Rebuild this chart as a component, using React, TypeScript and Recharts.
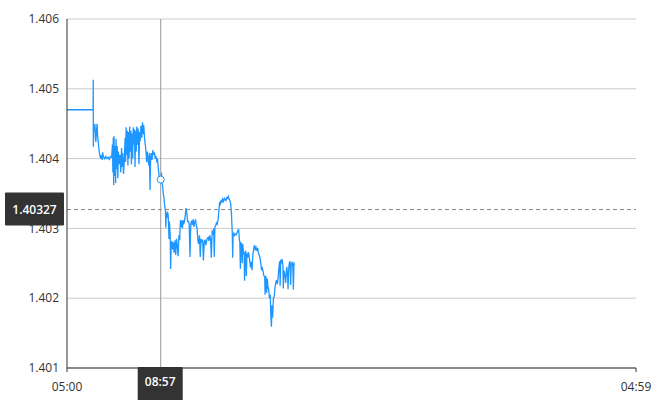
import { LineChart, Line, XAxis, YAxis, CartesianGrid, ReferenceLine, ReferenceDot } from 'recharts'

// minutes after 05:00
const minutes = [
  0, 66, 66.3, 66.6, 67.5, 69, 70.5, 72, 73, 74.5, 76, 77.5, 79, 81, 83, 85, 87, 89, 90, 92,
  95, 98, 101, 104, 107, 110, 113, 115, 116, 117, 118, 119, 120, 121.5, 123, 124, 125.5, 127, 128.5, 130,
  132, 134, 136, 138, 139.5, 141, 143, 145, 147, 148, 149.5, 151, 152.5, 154, 155.5, 157, 158.5, 160, 161.5, 163,
  164.5, 166, 167.5, 169, 170.5, 172, 173.5, 175, 176.5, 178, 180, 182, 183.5, 185, 187, 189, 191, 192.5, 194, 196,
  198, 200, 201.5, 203, 205, 207, 208.5, 210, 211.5, 213, 215, 217, 219, 221, 223, 225, 227, 229, 231, 233,
  235, 237, 239, 240, 242, 243.5, 245, 247, 249, 250, 251, 252.5, 254, 256, 258, 259, 261, 262, 263.5, 265,
  267, 269, 271, 273, 275, 277, 279, 281, 283, 285, 286, 287, 289, 290, 292, 293.5, 295, 297, 299, 301,
  303, 305, 307, 309, 311, 313, 315, 317, 319, 321, 323, 325, 327, 329, 331, 333, 335, 337, 339, 341,
  343, 345, 347, 349, 351, 353, 355, 357, 359, 361, 363, 365, 367, 369, 371, 372.5, 374, 376, 378, 380,
  382, 384, 386, 388, 390, 392, 394, 396, 398, 400, 402, 404, 406, 408, 410, 412, 414, 416, 418, 419,
  420, 422, 424, 426, 428, 430, 432, 434, 436, 437, 438.5, 440, 442, 443, 444.5, 446, 448, 449, 450.5, 452,
  453.5, 455, 457, 458.5, 460, 462, 464, 466, 468, 470, 472, 474, 476, 478, 480, 482, 484, 486, 488, 490,
  492, 494, 496, 498, 500, 501, 502.5, 504, 505, 506.5, 508, 510, 512, 514, 515.5, 517, 518.5, 520, 522, 524,
  526, 528, 530, 532, 534, 536, 538, 539, 540.5, 542, 544, 546, 547, 548.5, 550, 552, 553, 554.5, 556, 558,
  559, 560.5, 562, 564, 565.5, 567, 569, 571, 572.5, 574, 576
]

const prices = [
  1.4047, 1.4047, 1.40513, 1.40417, 1.40445, 1.4044, 1.4045, 1.4043, 1.40424, 1.4044, 1.4045, 1.40432, 1.40425, 1.40412, 1.40405, 1.404, 1.40405, 1.40398, 1.40409, 1.40403,
  1.404, 1.40403, 1.404, 1.40402, 1.40399, 1.40403, 1.40402, 1.4042, 1.4038, 1.4043, 1.40362, 1.40432, 1.40375, 1.40418, 1.40365, 1.40428, 1.40385, 1.40418, 1.40372, 1.4041,
  1.40392, 1.40405, 1.4038, 1.40415, 1.40388, 1.40408, 1.40378, 1.404, 1.4043, 1.40395, 1.40445, 1.40405, 1.4044, 1.4039, 1.40438, 1.404, 1.40446, 1.4041, 1.4044, 1.40392,
  1.40436, 1.404, 1.40445, 1.4042, 1.40442, 1.40388, 1.4044, 1.4041, 1.40446, 1.4042, 1.40443, 1.40392, 1.40438, 1.40425, 1.40447, 1.4043, 1.40452, 1.40435, 1.40448, 1.4043,
  1.4042, 1.40408, 1.40395, 1.4041, 1.404, 1.4039, 1.40408, 1.40355, 1.404, 1.40408, 1.40398, 1.40412, 1.40405, 1.40409, 1.404, 1.40404, 1.40396, 1.40398, 1.40385, 1.40375,
  1.4037, 1.40369, 1.4038, 1.40366, 1.4036, 1.4035, 1.40345, 1.40333, 1.40325, 1.40301, 1.40322, 1.40315, 1.40324, 1.40318, 1.40285, 1.4031, 1.4029, 1.40242, 1.40275, 1.40282,
  1.4027, 1.4028, 1.40265, 1.40283, 1.40262, 1.40285, 1.40275, 1.4026, 1.4029, 1.40283, 1.403, 1.40312, 1.40302, 1.40311, 1.403, 1.40312, 1.40306, 1.4031, 1.40318, 1.40329,
  1.40322, 1.4031, 1.4031, 1.40307, 1.40259, 1.40305, 1.40311, 1.40305, 1.40313, 1.40302, 1.40309, 1.40313, 1.40304, 1.403, 1.40282, 1.40278, 1.4029, 1.40259, 1.40285, 1.4028,
  1.40284, 1.40254, 1.4028, 1.40284, 1.40276, 1.40282, 1.40286, 1.40287, 1.40282, 1.4029, 1.40285, 1.40258, 1.40295, 1.40293, 1.403, 1.40259, 1.40302, 1.40304, 1.40308, 1.40306,
  1.40312, 1.40325, 1.40338, 1.40335, 1.40341, 1.40337, 1.40342, 1.40339, 1.40343, 1.40341, 1.4034, 1.40344, 1.40343, 1.40346, 1.40342, 1.4034, 1.40335, 1.4032, 1.40293, 1.40258,
  1.40288, 1.40293, 1.4029, 1.40292, 1.40291, 1.40294, 1.40296, 1.40299, 1.40283, 1.40281, 1.40242, 1.4028, 1.40275, 1.4025, 1.40278, 1.40268, 1.40262, 1.40225, 1.40265, 1.40268,
  1.40232, 1.40264, 1.40258, 1.40266, 1.40262, 1.40255, 1.40244, 1.40252, 1.4024, 1.40262, 1.4027, 1.40276, 1.4027, 1.40273, 1.40268, 1.40272, 1.40265, 1.40262, 1.40258, 1.4025,
  1.4024, 1.40243, 1.40238, 1.40232, 1.4023, 1.40205, 1.40232, 1.40225, 1.40208, 1.40228, 1.40218, 1.40212, 1.402, 1.40205, 1.40175, 1.40159, 1.4019, 1.40172, 1.402, 1.40202,
  1.40215, 1.40222, 1.40226, 1.4022, 1.4023, 1.40245, 1.40253, 1.40218, 1.40255, 1.4025, 1.40256, 1.40248, 1.40214, 1.4024, 1.40236, 1.40228, 1.40222, 1.40238, 1.40245, 1.4023,
  1.40213, 1.4024, 1.4025, 1.40253, 1.40219, 1.40248, 1.40252, 1.40246, 1.40212, 1.4025, 1.40248
]

const xTicks = [0, 1439]
const yTicks = [1.401, 1.402, 1.403, 1.404, 1.405, 1.406]

const cursorMinute = 237
const cursorPrice = 1.4037
const crossPrice = 1.40327

const data = minutes.map((m, i) => ({ m, p: prices[i] }))

const fmtTime = (m: number) => {
  const total = (300 + Math.round(m)) % 1440
  const h = Math.floor(total / 60)
  const mm = total % 60
  return `${String(h).padStart(2, '0')}:${String(mm).padStart(2, '0')}`
}

const FONT = '"Open Sans", "Noto Sans", sans-serif'

const PriceLabel = (props: any) => {
  const { viewBox } = props
  const cy = viewBox.y
  return (
    <g>
      <rect x={5} y={cy - 17} width={59} height={33} fill="#333" rx={1} />
      <text x={34.5} y={cy} textAnchor="middle" dominantBaseline="central" fill="#fff"
        fontSize={12} fontWeight={600} fontFamily={FONT}>
        {crossPrice.toFixed(5)}
      </text>
    </g>
  )
}

const TimeLabel = (props: any) => {
  const { viewBox } = props
  const cx = viewBox.x
  const bottom = viewBox.y + viewBox.height
  return (
    <g>
      <rect x={cx - 23} y={bottom - 1} width={45} height={36} fill="#333" rx={1} />
      <text x={cx - 0.5} y={bottom + 13} textAnchor="middle" dominantBaseline="central" fill="#fff"
        fontSize={12} fontWeight={600} fontFamily={FONT}>
        {fmtTime(cursorMinute)}
      </text>
    </g>
  )
}

export default function App() {
  return (
    <div style={{ position: 'absolute', left: 0, top: 0, width: 670, height: 400, background: '#fff' }}>
      <LineChart width={670} height={400} data={data} margin={{ top: 19, right: 34, bottom: 0, left: 0 }}>
        <CartesianGrid vertical={false} stroke="#ccc" />
        <XAxis
          dataKey="m"
          type="number"
          domain={[0, 1439]}
          ticks={xTicks}
          tickFormatter={fmtTime}
          height={32}
          stroke="#333"
          tickSize={4}
          tickMargin={10}
          tick={{ fill: '#333', fontSize: 12, fontFamily: FONT }}
        />
        <YAxis
          type="number"
          domain={[1.401, 1.406]}
          ticks={yTicks}
          tickFormatter={(v: number) => v.toFixed(3)}
          width={67}
          stroke="#333"
          tickLine={false}
          tick={{ fill: '#333', fontSize: 12, fontFamily: FONT }}
        />
        <Line
          type="linear"
          dataKey="p"
          stroke="#1e96ff"
          strokeWidth={1.3}
          dot={false}
          isAnimationActive={false}
        />
        <ReferenceLine y={crossPrice} stroke="#888" strokeDasharray="4 3" label={<PriceLabel />} />
        <ReferenceLine x={cursorMinute} stroke="#999" label={<TimeLabel />} />
        <ReferenceDot x={cursorMinute} y={cursorPrice} r={3.5} fill="#fff" stroke="#1e96ff" strokeWidth={1} />
      </LineChart>
    </div>
  )
}
